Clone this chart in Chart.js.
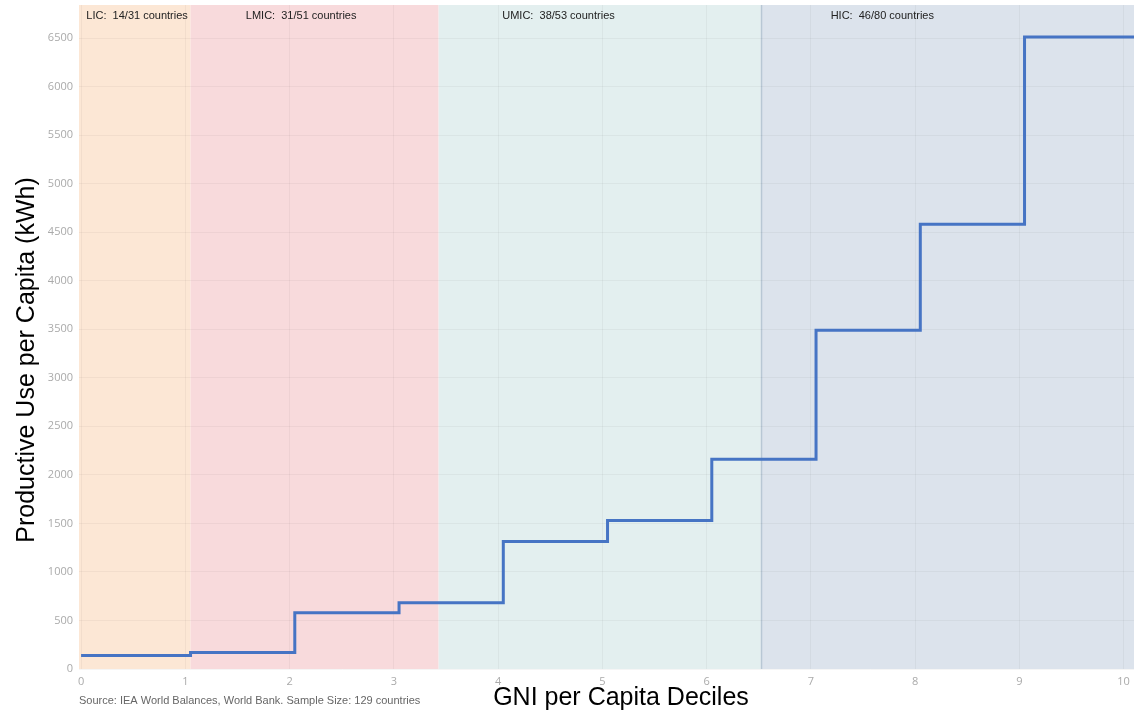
<!DOCTYPE html>
<html lang="en">
<head>
    <meta charset="UTF-8">
    <title>Productive Use per Capita by GNI Decile</title>
    <script src="https://cdn.jsdelivr.net/npm/chart.js"></script>
    <style>
        body { margin: 0; background: #fff; }
        canvas { display: block; }
    </style>
</head>
<body>
    <canvas id="graficoDeciles" width="1134" height="713"></canvas>
<script>
    // step positions (decile) and level (kWh) held until the next step
    const stepX = [0, 1.05, 2.05, 3.05, 4.05, 5.05, 6.05, 7.05, 8.05, 9.05, 10.1];
    const stepKwh = [140, 170, 580, 682, 1314, 1531, 2160, 3490, 4582, 6510, 6510];

    // income group bands
    const bandNames = ['LIC:  14/31 countries', 'LMIC:  31/51 countries', 'UMIC:  38/53 countries', 'HIC:  46/80 countries'];
    const bandFrom = [-0.02, 1.05, 3.43, 6.52];
    const bandTo = [1.05, 3.43, 6.52, 10.1];
    const bandLabelX = [0.05, 1.58, 4.04, 7.19];
    const bandColors = ['#fce7d5', '#f8dadc', '#e3efef', '#dce3ec'];

    const xTicks = [0, 1, 2, 3, 4, 5, 6, 7, 8, 9, 10];
    const yTicks = [0, 500, 1000, 1500, 2000, 2500, 3000, 3500, 4000, 4500, 5000, 5500, 6000, 6500];

    const pontos = stepX.map((x, i) => ({ x: x, y: stepKwh[i] }));

    const faixas = {
        id: 'faixas',
        beforeDraw(chart) {
            const ctx = chart.ctx;
            const xs = chart.scales.x;
            const area = chart.chartArea;
            ctx.save();
            for (let i = 0; i < bandNames.length; i++) {
                const a = xs.getPixelForValue(bandFrom[i]);
                const b = xs.getPixelForValue(bandTo[i]);
                ctx.fillStyle = bandColors[i];
                ctx.fillRect(a, area.top, b - a, area.bottom - area.top);
            }
            // edge of the HIC band
            const e = Math.round(xs.getPixelForValue(bandFrom[3])) + 0.5;
            ctx.strokeStyle = 'rgba(140,165,185,0.45)';
            ctx.lineWidth = 1.5;
            ctx.beginPath();
            ctx.moveTo(e, area.top);
            ctx.lineTo(e, area.bottom);
            ctx.stroke();
            ctx.restore();
        },
        afterDraw(chart) {
            const ctx = chart.ctx;
            const xs = chart.scales.x;
            const area = chart.chartArea;
            ctx.save();
            ctx.font = '11px "Liberation Sans", Arial, sans-serif';
            ctx.fillStyle = '#222';
            ctx.textBaseline = 'middle';
            ctx.textAlign = 'left';
            for (let i = 0; i < bandNames.length; i++) {
                ctx.fillText(bandNames[i], xs.getPixelForValue(bandLabelX[i]), area.top + 11);
            }
            ctx.fillStyle = '#666';
            ctx.fillText('Source: IEA World Balances, World Bank. Sample Size: 129 countries', area.left, 701);

            // axis titles
            ctx.fillStyle = '#000';
            ctx.font = '25px "Liberation Sans", Arial, sans-serif';
            ctx.textAlign = 'center';
            ctx.fillText('GNI per Capita Deciles', 621, 698);
            ctx.translate(27, 360);
            ctx.rotate(-Math.PI / 2);
            ctx.fillText('Productive Use per Capita (kWh)', 0, 0);
            ctx.restore();
        }
    };

    const ctx = document.getElementById('graficoDeciles').getContext('2d');
    new Chart(ctx, {
        type: 'line',
        data: {
            datasets: [{
                data: pontos,
                borderColor: '#4674c4',
                borderWidth: 3,
                stepped: 'before',
                pointRadius: 0,
                fill: false
            }]
        },
        options: {
            responsive: false,
            animation: false,
            layout: { padding: { top: 5, right: 0, left: 0, bottom: 0 } },
            plugins: {
                legend: { display: false },
                tooltip: { enabled: false }
            },
            scales: {
                x: {
                    type: 'linear',
                    min: -0.02,
                    max: 10.1,
                    afterBuildTicks: (s) => { s.ticks = xTicks.map(v => ({ value: v })); },
                    afterFit: (s) => { s.height = 44; s.paddingLeft = 0; s.paddingRight = 0; },
                    grid: { color: 'rgba(0,0,0,0.04)', drawTicks: false },
                    border: { display: false },
                    ticks: {
                        padding: 6,
                        color: '#aaa',
                        font: { family: '"Open Sans", sans-serif', size: 11 },
                        maxRotation: 0,
                        callback: (v) => String(v)
                    }
                },
                y: {
                    min: 0,
                    max: 6840,
                    afterBuildTicks: (s) => { s.ticks = yTicks.map(v => ({ value: v })); },
                    afterFit: (s) => { s.width = 79; s.paddingTop = 0; s.paddingBottom = 0; },
                    grid: { color: 'rgba(0,0,0,0.04)', drawTicks: false },
                    border: { display: false },
                    ticks: {
                        padding: 6,
                        color: '#aaa',
                        font: { family: '"Open Sans", sans-serif', size: 11 },
                        callback: (v) => String(v)
                    }
                }
            }
        },
        plugins: [faixas]
    });
</script>
</body>
</html>
